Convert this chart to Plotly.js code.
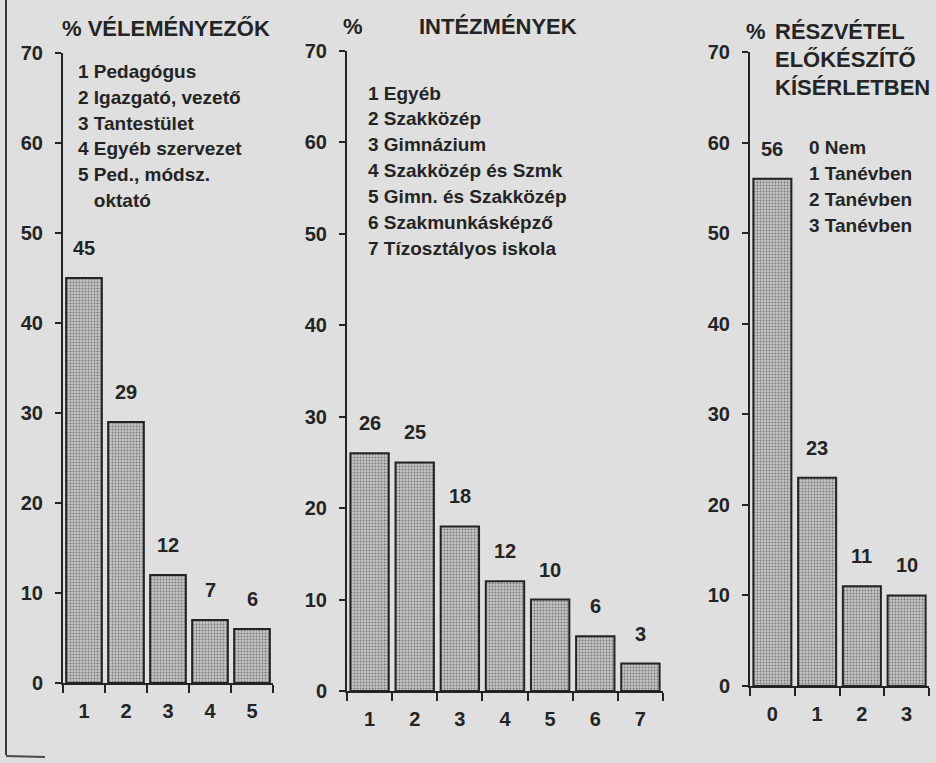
<!DOCTYPE html>
<html>
<head>
<meta charset="utf-8">
<script src="https://cdn.plot.ly/plotly-3.0.1.min.js"></script>
<style>html,body{margin:0;padding:0;background:#dfdfdf;}#chart{width:936px;height:763px;}</style>
</head>
<body>
<div id="chart"></div>
<script>
// Chart 1: Véleményezők
const cats1 = ["1", "2", "3", "4", "5"];
const vals1 = [45, 29, 12, 7, 6];
const legend1 = ["1 Pedagógus", "2 Igazgató, vezető", "3 Tantestület", "4 Egyéb szervezet", "5 Ped., módsz.", "   oktató"];
// Chart 2: Intézmények
const cats2 = ["1", "2", "3", "4", "5", "6", "7"];
const vals2 = [26, 25, 18, 12, 10, 6, 3];
const legend2 = ["1 Egyéb", "2 Szakközép", "3 Gimnázium", "4 Szakközép és Szmk", "5 Gimn. és Szakközép", "6 Szakmunkásképző", "7 Tízosztályos iskola"];
// Chart 3: Részvétel előkészítő kísérletben
const cats3 = ["0", "1", "2", "3"];
const vals3 = [56, 23, 11, 10];
const legend3 = ["0 Nem", "1 Tanévben", "2 Tanévben", "3 Tanévben"];
const yTicks = [0, 10, 20, 30, 40, 50, 60, 70];

const W = 936, H = 763;
const px = x => x / W;
const py = y => 1 - y / H;
const ink = '#242424';
const FONT = 'Liberation Sans, Arial, sans-serif';

function barTrace(cats, vals, xa, ya) {
  return {
    type: 'bar', x: cats, y: vals, xaxis: xa, yaxis: ya,
    marker: {
      color: '#b9b9b9',
      line: {color: ink, width: 2},
      pattern: {shape: '.', bgcolor: '#c4c4c4', fgcolor: '#777777', size: 3, solidity: 0.3}
    },
    hoverinfo: 'skip', showlegend: false
  };
}

const data = [
  barTrace(cats1, vals1, 'x', 'y'),
  barTrace(cats2, vals2, 'x2', 'y2'),
  barTrace(cats3, vals3, 'x3', 'y3')
];

function xAxis(domain, n, anchor) {
  return {
    domain: domain, anchor: anchor, type: 'category', range: [-0.5, n - 0.5],
    showline: true, linecolor: ink, linewidth: 2, showgrid: false, zeroline: false,
    ticks: 'outside', tickson: 'boundaries', ticklen: 8, tickwidth: 2, tickcolor: ink,
    ticklabelstandoff: 9,
    tickfont: {family: FONT, size: 20, color: ink, weight: 'bold'}, fixedrange: true
  };
}
function yAxis(domain, anchor) {
  return {
    domain: domain, anchor: anchor, range: [0, 70], tickvals: yTicks,
    showline: true, linecolor: ink, linewidth: 2, showgrid: false, zeroline: false,
    ticks: 'outside', ticklen: 6, tickwidth: 2, tickcolor: ink, ticklabelstandoff: 8,
    tickfont: {family: FONT, size: 20, color: ink, weight: 'bold'}, fixedrange: true
  };
}

const annotations = [];
function valueLabels(cats, vals, xr, yr) {
  cats.forEach((c, i) => {
    annotations.push({
      xref: xr, yref: yr, x: i, y: vals[i], text: String(vals[i]),
      showarrow: false, yanchor: 'middle', yshift: 30,
      font: {family: FONT, size: 20, color: ink, weight: 'bold'}
    });
  });
}
valueLabels(cats1, vals1, 'x', 'y');
valueLabels(cats2, vals2, 'x2', 'y2');
valueLabels(cats3, vals3, 'x3', 'y3');

function textAt(text, x, y, size, anchor) {
  annotations.push({
    xref: 'paper', yref: 'paper', x: px(x), y: py(y), text: text, showarrow: false,
    xanchor: anchor || 'left', yanchor: 'middle',
    font: {family: FONT, size: size, color: ink, weight: 'bold'}
  });
}
// titles
textAt('% VÉLEMÉNYEZŐK', 60, 28, 22);
textAt('%', 341, 27, 22);
textAt('INTÉZMÉNYEK', 417, 27, 22);
textAt('%', 744, 32, 22);
textAt('RÉSZVÉTEL', 773, 32, 22);
textAt('ELŐKÉSZÍTŐ', 773, 60, 22);
textAt('KÍSÉRLETBEN', 773, 88, 22);
// legends
legend1.forEach((t, i) => textAt(t, 76, 72 + i * 25.6, 19));
legend2.forEach((t, i) => textAt(t, 366, 93 + i * 25.9, 19));
legend3.forEach((t, i) => textAt(t, 807, 148 + i * 25.7, 19));

const layout = {
  width: W, height: H,
  margin: {l: 0, r: 0, t: 0, b: 0},
  paper_bgcolor: '#dfdfdf', plot_bgcolor: 'rgba(0,0,0,0)',
  bargap: 0.15,
  xaxis: xAxis([px(63), px(273)], cats1.length, 'y'),
  yaxis: yAxis([py(683), py(53)], 'x'),
  xaxis2: xAxis([px(347), px(663)], cats2.length, 'y2'),
  yaxis2: yAxis([py(691), py(51)], 'x2'),
  xaxis3: xAxis([px(750), px(929)], cats3.length, 'y3'),
  yaxis3: yAxis([py(686), py(52)], 'x3'),
  annotations: annotations,
  shapes: [
    {type: 'line', xref: 'paper', yref: 'paper', x0: px(6), x1: px(6), y0: py(0), y1: py(755),
     line: {color: '#3a3a3a', width: 2}},
    {type: 'line', xref: 'paper', yref: 'paper', x0: px(6), x1: px(45), y0: py(756), y1: py(757),
     line: {color: '#4a4a4a', width: 2}}
  ]
};

Plotly.newPlot('chart', data, layout, {displayModeBar: false, staticPlot: true});
</script>
</body>
</html>
